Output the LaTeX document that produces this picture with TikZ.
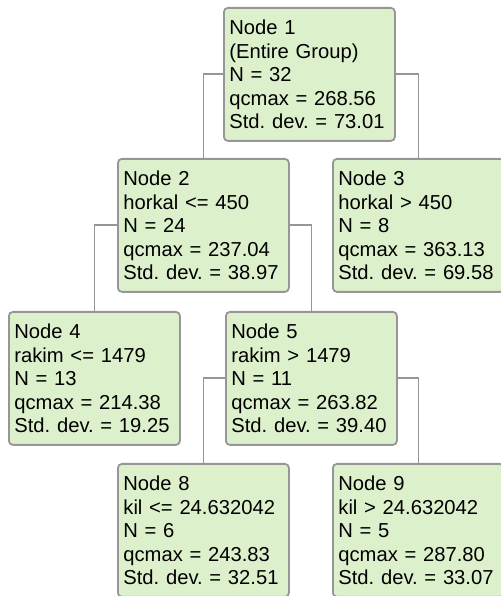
\documentclass[tikz,border=0pt]{standalone}
\usepackage{fontspec}
\setmainfont{Liberation Sans}
\frenchspacing
\definecolor{boxfill}{RGB}{221,240,204}
\definecolor{boxline}{RGB}{150,150,150}
\definecolor{linkline}{RGB}{150,150,150}
\begin{document}
\begin{tikzpicture}[x=1pt,y=1pt,
  treebox/.style={draw=boxline, line width=1.8pt, fill=boxfill, rounded corners=4pt,
    anchor=north west, minimum width=171pt, minimum height=133pt,
    text width=160pt, inner xsep=5.5pt, inner ysep=0pt, align=left,
    font=\fontsize{20.2}{23.5}\selectfont\frenchspacing},
  link/.style={draw=linkline, line width=1.8pt}]
\useasboundingbox (0,0) rectangle (500,596);
\node[treebox] (n1) at (223,589) {Node 1\\(Entire Group)\\N = 32\\qcmax = 268.56\\Std. dev. = 73.01};
\node[treebox] (n2) at (117,438) {Node 2\\horkal <= 450\\N = 24\\qcmax = 237.04\\Std. dev. = 38.97};
\node[treebox] (n3) at (332,438) {Node 3\\horkal > 450\\N = 8\\qcmax = 363.13\\Std. dev. = 69.58};
\node[treebox] (n4) at (8,285) {Node 4\\rakim <= 1479\\N = 13\\qcmax = 214.38\\Std. dev. = 19.25};
\node[treebox] (n5) at (225,285) {Node 5\\rakim > 1479\\N = 11\\qcmax = 263.82\\Std. dev. = 39.40};
\node[treebox] (n8) at (117,133) {Node 8\\kil <= 24.632042\\N = 6\\qcmax = 243.83\\Std. dev. = 32.51};
\node[treebox] (n9) at (332,133) {Node 9\\kil > 24.632042\\N = 5\\qcmax = 287.80\\Std. dev. = 33.07};
\draw[link] (n1.west) -| (n2.north);
\draw[link] (n1.east) -| (n3.north);
\draw[link] (n2.west) -| (n4.north);
\draw[link] (n2.east) -| (n5.north);
\draw[link] (n5.west) -| (n8.north);
\draw[link] (n5.east) -| (n9.north);
\end{tikzpicture}
\end{document}
